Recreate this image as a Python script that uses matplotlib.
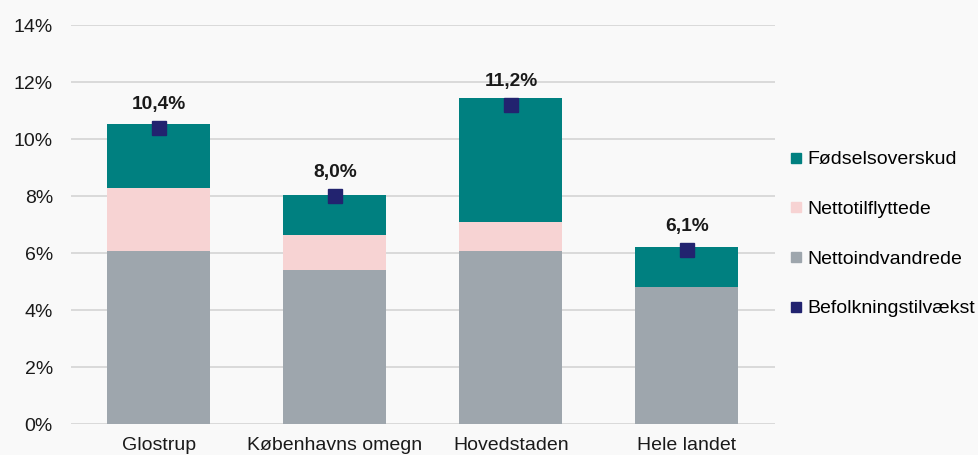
import matplotlib.pyplot as plt
from matplotlib.lines import Line2D

plt.rcParams['font.family'] = ['Liberation Sans', 'DejaVu Sans']

# data (percent)
categories = ['Glostrup', 'Københavns omegn', 'Hovedstaden', 'Hele landet']
nettoindvandrede = [6.07, 5.40, 6.07, 4.81]
nettotilflyttede = [2.21, 1.23, 1.02, 0.0]
foedselsoverskud = [2.25, 1.41, 4.35, 1.40]
befolkningstilvaekst = [10.4, 8.0, 11.2, 6.1]
tilvaekst_labels = ['10,4%', '8,0%', '11,2%', '6,1%']

c_grey = '#9ea6ad'
c_pink = '#f7d3d3'
c_teal = '#008080'
c_navy = '#22236f'
bg = '#f9f9f9'

fig = plt.figure(figsize=(9.79, 4.55), dpi=100, facecolor=bg)
ax = fig.add_axes([0.0725, 0.068, 0.719, 0.877], facecolor=bg)

x = list(range(len(categories)))
w = 0.585
ax.bar(x, nettoindvandrede, w, color=c_grey, zorder=2)
bottom2 = nettoindvandrede
ax.bar(x, nettotilflyttede, w, bottom=bottom2, color=c_pink, zorder=2)
bottom3 = [a + b for a, b in zip(nettoindvandrede, nettotilflyttede)]
ax.bar(x, foedselsoverskud, w, bottom=bottom3, color=c_teal, zorder=2)
ax.plot(x, befolkningstilvaekst, linestyle='none', marker='s', markersize=9.5,
        color=c_navy, zorder=3)

for xi, yi, lab in zip(x, befolkningstilvaekst, tilvaekst_labels):
    ax.annotate(lab, (xi, yi), xytext=(0, 17), textcoords='offset points',
                ha='center', va='center', fontsize=13.8, fontweight='bold',
                color='#1a1a1a')

ax.set_xlim(-0.5, 3.5)
ax.set_ylim(0, 14)
ax.set_yticks(range(0, 15, 2))
ax.set_yticklabels([f'{v}%' for v in range(0, 15, 2)])
ax.set_xticks(x)
ax.set_xticklabels(categories)
ax.tick_params(axis='y', length=0, pad=13, labelsize=14, labelcolor='#1a1a1a')
ax.tick_params(axis='x', length=0, pad=9, labelsize=14, labelcolor='#1a1a1a')
ax.grid(axis='y', color='#d4d4d4', linewidth=1.2, zorder=0)
for s in ax.spines.values():
    s.set_visible(False)

handles = [
    Line2D([], [], linestyle='none', marker='s', markersize=7, color=c_teal),
    Line2D([], [], linestyle='none', marker='s', markersize=7, color=c_pink),
    Line2D([], [], linestyle='none', marker='s', markersize=7, color=c_grey),
    Line2D([], [], linestyle='none', marker='s', markersize=7, color=c_navy),
]
labels = ['Fødselsoverskud', 'Nettotilflyttede', 'Nettoindvandrede', 'Befolkningstilvækst']
fig.legend(handles, labels, loc='upper left', bbox_to_anchor=(0.797, 0.69),
           frameon=False, fontsize=14, labelspacing=1.65, handlelength=0.6,
           handletextpad=0.3, borderpad=0)

fig.savefig('out.png', dpi=100, facecolor=bg)
